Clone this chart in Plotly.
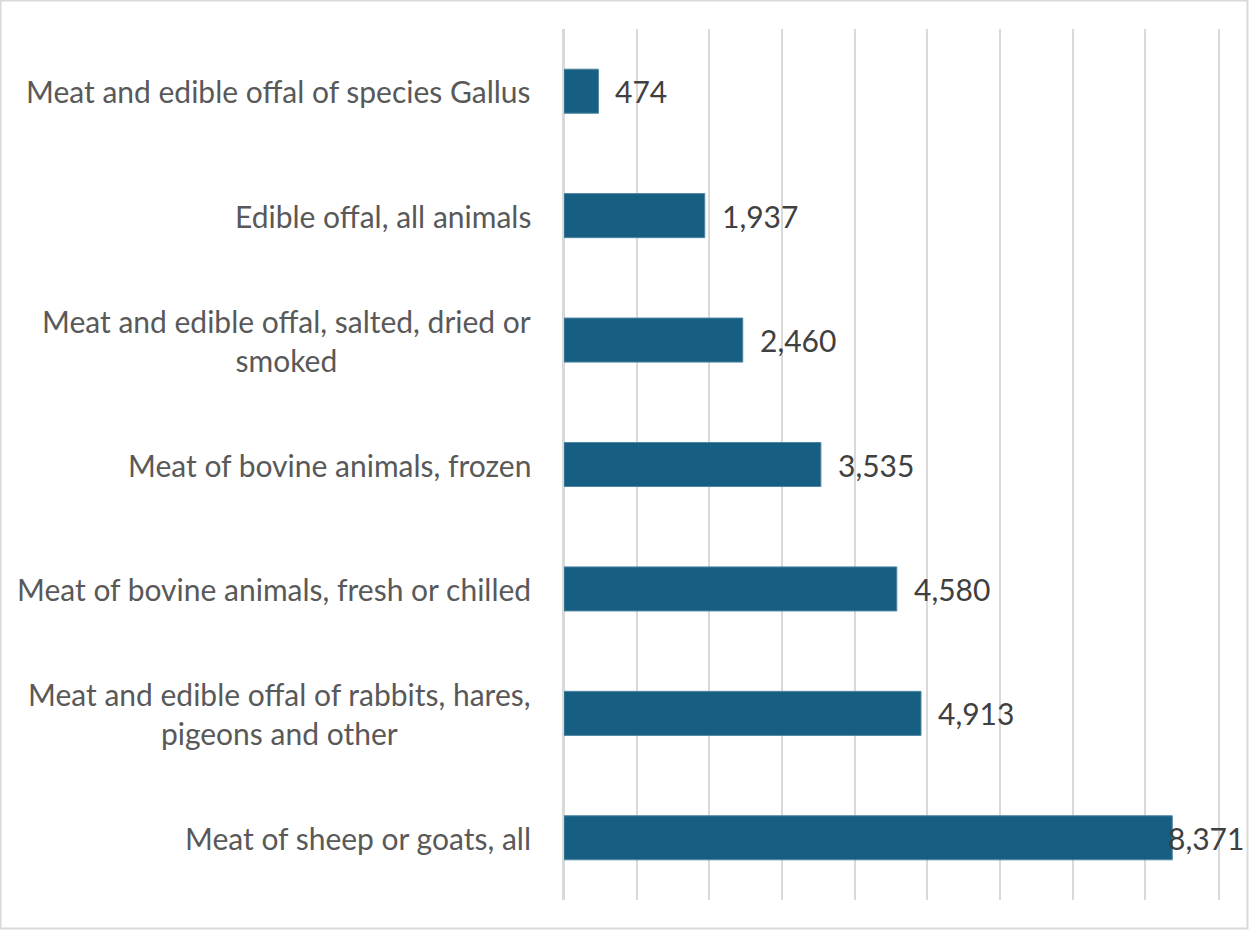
import plotly.graph_objects as go

# Trade value by meat product (bottom-to-top order on the chart)
categories = [
    "Meat of sheep or goats, all",
    "Meat and edible offal of rabbits, hares,<br>pigeons and other",
    "Meat of bovine animals, fresh or chilled",
    "Meat of bovine animals, frozen",
    "Meat and edible offal, salted, dried or<br>smoked",
    "Edible offal, all animals",
    "Meat and edible offal of species Gallus",
]
values = [8371, 4913, 4580, 3535, 2460, 1937, 474]

W, H = 1249, 930
ML, MR, MT, MB = 564, 31, 29, 30
XMAX = 9000
FONT = "Lato"
FS = 30
BAR_COLOR = "#175F82"
GRID = "#D9D9D9"

fig = go.Figure(
    go.Bar(
        x=values,
        y=categories,
        orientation="h",
        marker=dict(color=BAR_COLOR, line=dict(color="#4F86A3", width=1)),
        width=0.354,
        hoverinfo="x+y",
    )
)

plot_w = W - ML - MR
annotations = []
for cat, v in zip(categories, values):
    # category label, centered lines, right edge just left of the axis
    annotations.append(dict(
        x=0, y=cat, xref="paper", yref="y", text=cat,
        xanchor="right", yanchor="middle", align="center", xshift=-31,
        showarrow=False, font=dict(family=FONT, size=FS, color="#595959"),
    ))
    # value label to the right of the bar, kept inside the chart frame
    label = f"{v:,}"
    end_px = ML + v / XMAX * plot_w
    est_w = len(label) * 0.5 * FS
    shift = min(15, (W - 8) - est_w - end_px)
    annotations.append(dict(
        x=v, y=cat, xref="x", yref="y", text=label,
        xanchor="left", yanchor="middle", xshift=shift,
        showarrow=False, font=dict(family=FONT, size=FS, color="#404040"),
    ))

fig.update_layout(
    width=W, height=H,
    margin=dict(l=ML, r=MR, t=MT, b=MB, pad=0),
    paper_bgcolor="white", plot_bgcolor="white",
    showlegend=False,
    annotations=annotations,
    xaxis=dict(
        range=[0, XMAX], dtick=1000, showgrid=True, gridcolor=GRID,
        gridwidth=2, showticklabels=False, zeroline=True, zerolinecolor=GRID,
        zerolinewidth=2, showline=False, fixedrange=True,
    ),
    yaxis=dict(
        showticklabels=False, showgrid=False, zeroline=False,
        showline=True, mirror=True, linecolor=GRID, linewidth=2,
        fixedrange=True,
    ),
    shapes=[dict(
        type="rect", xref="paper", yref="paper",
        x0=-ML / plot_w + 0.5 / plot_w, x1=1 + (MR - 1.5) / plot_w,
        y0=-(MB - 1.5) / (H - MT - MB), y1=1 + (MT - 0.5) / (H - MT - MB),
        line=dict(color=GRID, width=2), fillcolor="rgba(0,0,0,0)",
        layer="below",
    )],
)

fig.write_html("out.html")
